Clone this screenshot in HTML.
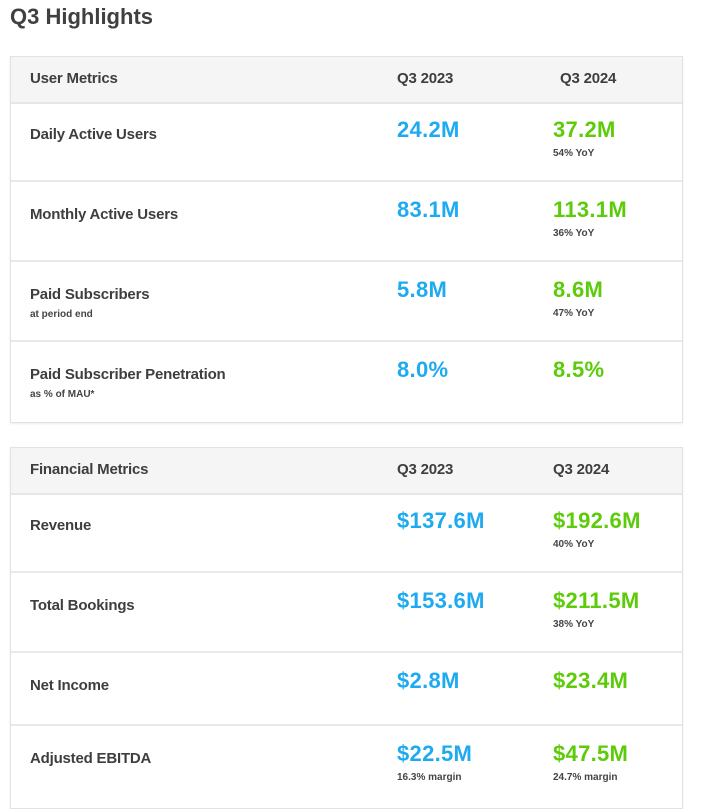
<!DOCTYPE html>
<html><head><meta charset="utf-8"><style>
body{margin:0;width:724px;height:790px;background:#fff;overflow:hidden;font-family:"Liberation Sans",sans-serif;color:#3a3a3a;position:relative}
.a{position:absolute;white-space:nowrap}
.title{left:10px;top:4px;font-size:22px;font-weight:bold;color:#404040}
.box{position:absolute;left:10px;width:671px;border:1px solid #e2e2e2;box-shadow:0 1px 2px rgba(0,0,0,.08);background:#fff}
.hdr{position:absolute;left:0;right:0;top:0;height:45px;background:#f5f5f5;border-bottom:2px solid #e6e6e6}
.row{position:absolute;left:0;right:0;border-bottom:2px solid #e9e9e9}
.lab{font-size:15px;font-weight:bold;color:#3e3e3e;letter-spacing:-0.2px}
.h{font-size:15px;color:#3e3e3e;font-weight:bold;letter-spacing:-0.2px}
.sub{font-size:10px;color:#444;font-weight:bold}
.v1{font-size:22px;color:#1eaaf1;font-weight:bold;letter-spacing:0.3px}
.v2{font-size:22px;color:#5ccc0a;font-weight:bold;letter-spacing:0.3px}
</style></head><body>
<div class="a title">Q3 Highlights</div>

<div class="box" style="top:56px;height:365px">
 <div class="hdr">
  <div class="a h" style="left:19px;top:13px">User Metrics</div>
  <div class="a h" style="left:386px;top:13px">Q3 2023</div>
  <div class="a h" style="left:549px;top:13px">Q3 2024</div>
 </div>
 <div class="row" style="top:45px;height:78px">
  <div class="a lab" style="left:19px;top:24px">Daily Active Users</div>
  <div class="a v1" style="left:386px;top:15px">24.2M</div>
  <div class="a v2" style="left:542px;top:15px">37.2M</div>
  <div class="a sub" style="left:542px;top:46px">54% YoY</div>
 </div>
 <div class="row" style="top:125px;height:78px">
  <div class="a lab" style="left:19px;top:24px">Monthly Active Users</div>
  <div class="a v1" style="left:386px;top:15px">83.1M</div>
  <div class="a v2" style="left:542px;top:15px">113.1M</div>
  <div class="a sub" style="left:542px;top:46px">36% YoY</div>
 </div>
 <div class="row" style="top:205px;height:78px">
  <div class="a lab" style="left:19px;top:24px">Paid Subscribers</div>
  <div class="a sub" style="left:19px;top:47px">at period end</div>
  <div class="a v1" style="left:386px;top:15px">5.8M</div>
  <div class="a v2" style="left:542px;top:15px">8.6M</div>
  <div class="a sub" style="left:542px;top:46px">47% YoY</div>
 </div>
 <div class="row" style="top:285px;height:78px;border-bottom:none">
  <div class="a lab" style="left:19px;top:24px">Paid Subscriber Penetration</div>
  <div class="a sub" style="left:19px;top:47px">as % of MAU*</div>
  <div class="a v1" style="left:386px;top:15px">8.0%</div>
  <div class="a v2" style="left:542px;top:15px">8.5%</div>
 </div>
</div>

<div class="box" style="top:447px;height:360px">
 <div class="hdr">
  <div class="a h" style="left:19px;top:13px">Financial Metrics</div>
  <div class="a h" style="left:386px;top:13px">Q3 2023</div>
  <div class="a h" style="left:542px;top:13px">Q3 2024</div>
 </div>
 <div class="row" style="top:45px;height:78px">
  <div class="a lab" style="left:19px;top:24px">Revenue</div>
  <div class="a v1" style="left:386px;top:15px">$137.6M</div>
  <div class="a v2" style="left:542px;top:15px">$192.6M</div>
  <div class="a sub" style="left:542px;top:46px">40% YoY</div>
 </div>
 <div class="row" style="top:125px;height:78px">
  <div class="a lab" style="left:19px;top:24px">Total Bookings</div>
  <div class="a v1" style="left:386px;top:15px">$153.6M</div>
  <div class="a v2" style="left:542px;top:15px">$211.5M</div>
  <div class="a sub" style="left:542px;top:46px">38% YoY</div>
 </div>
 <div class="row" style="top:205px;height:71px">
  <div class="a lab" style="left:19px;top:24px">Net Income</div>
  <div class="a v1" style="left:386px;top:15px">$2.8M</div>
  <div class="a v2" style="left:542px;top:15px">$23.4M</div>
 </div>
 <div class="row" style="top:278px;height:80px;border-bottom:none">
  <div class="a lab" style="left:19px;top:24px">Adjusted EBITDA</div>
  <div class="a v1" style="left:386px;top:15px">$22.5M</div>
  <div class="a sub" style="left:386px;top:46px">16.3% margin</div>
  <div class="a v2" style="left:542px;top:15px">$47.5M</div>
  <div class="a sub" style="left:542px;top:46px">24.7% margin</div>
 </div>
</div>
</body></html>
